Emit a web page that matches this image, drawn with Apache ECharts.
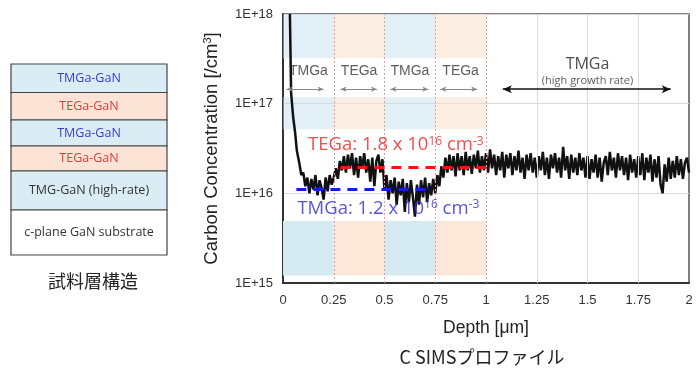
<!DOCTYPE html>
<html>
<head>
<meta charset="utf-8">
<script src="https://cdn.jsdelivr.net/npm/echarts@6/dist/echarts.min.js"></script>
<style>html,body{margin:0;padding:0;background:#fff;}#c{width:698px;height:369px;}</style>
</head>
<body>
<div id="c"></div>
<script>
// ---------------- DATA ----------------
// steep surface drop (depth in um, carbon in units of 1e16 cm^-3)
const depthHead = [0.034, 0.040, 0.050, 0.060, 0.068, 0.080, 0.090];
const carbonHead = [100, 13.1, 7.1, 4.7, 3.0, 2.2, 1.6];
// evenly sampled profile from 0.10 um to 2.00 um every 0.01 um (units of 1e16 cm^-3)
const gridStart = 0.10;
const gridStep = 0.01;
const carbonGrid = [
  1.7,1.2,1.5,1.0,1.45,1.1,1.6,0.95,1.4,1.15,0.85,1.5,1.05,1.6,1.25,
  1.5,1.9,1.45,2.3,1.8,2.6,1.7,2.7,1.9,2.8,1.6,2.5,1.5,2.6,1.9,2.8,1.7,2.4,1.35,2.5,1.2,2.3,2.7,1.7,2.4,
  1.1,1.6,0.85,1.4,1.0,1.5,0.75,1.35,0.95,1.45,0.62,1.3,0.8,1.4,0.9,0.55,1.25,0.75,1.4,0.9,1.5,0.8,1.3,0.95,1.45,
  1.0,1.6,1.2,2.0,1.5,2.5,1.7,2.7,1.8,2.6,1.55,2.8,1.8,2.6,1.6,2.9,1.8,2.6,1.65,2.7,1.9,3.0,1.7,2.6,1.8,
  2.8,1.7,3.1,1.9,2.7,1.6,2.6,1.8,2.9,1.5,2.7,1.9,2.8,1.6,2.6,1.8,3.0,1.7,2.5,1.45,2.7,1.8,2.8,1.7,2.5,
  1.5,2.6,1.8,2.9,1.6,2.5,1.45,2.7,1.9,2.8,1.7,2.5,1.5,3.3,1.8,2.6,1.45,2.7,1.7,2.5,1.6,2.8,1.8,2.5,1.5,
  2.6,1.45,2.4,1.7,2.7,1.5,2.5,1.35,2.2,2.6,1.6,2.9,1.8,2.5,1.5,2.8,1.8,2.6,1.6,2.5,1.4,2.7,1.7,2.4,1.5,
  2.6,1.6,2.8,1.4,2.5,1.7,2.7,1.35,2.4,1.5,2.6,1.25,1.0,2.1,1.35,2.5,1.45,2.3,1.5,2.6,1.6,2.4,1.45,2.2,2.5,1.7
];
const unit = 1e16;

// layer regions along depth
const layerNames = ['TMGa', 'TEGa', 'TMGa', 'TEGa'];
const layerEdges = [0, 0.25, 0.5, 0.75, 1.0];
const layerArrows = [[0.017, 0.20], [0.283, 0.463], [0.529, 0.716], [0.775, 0.957]];
const highRateArrow = [1.083, 1.91];
const gridDepths = [1.25, 1.5, 1.75];

// average levels
const tegaLevel = 1.95e16, tegaSpan = [0.283, 1.0];
const tmgaLevel = 1.12e16, tmgaSpan = [0.066, 0.734];

const xTicks = ['0', '0.25', '0.5', '0.75', '1', '1.25', '1.5', '1.75', '2'];

// ---------------- BUILD ----------------
const profile = [];
for (let i = 0; i < depthHead.length; i++) profile.push([depthHead[i], carbonHead[i] * unit]);
for (let i = 0; i < carbonGrid.length; i++) profile.push([+(gridStart + i * gridStep).toFixed(3), carbonGrid[i] * unit]);

// band vertical ranges (concentration values)
const bandRangesUpper = [[3.22e17, 1e18], [5.2e16, 1.18e17]];
const bandRangeLower = [1.21e15, 4.9e15];
const upperColors = ['rgba(200,224,240,0.5)', 'rgba(251,222,200,0.5)'];
const lowerColors = ['#d6eaf2', '#fce7d9'];

const areas = [];
for (let i = 0; i < 4; i++) {
  bandRangesUpper.forEach(r => {
    areas.push([{ xAxis: layerEdges[i], yAxis: r[0], itemStyle: { color: upperColors[i % 2] } }, { xAxis: layerEdges[i + 1], yAxis: r[1] }]);
  });
  areas.push([{ xAxis: layerEdges[i], yAxis: bandRangeLower[0], itemStyle: { color: lowerColors[i % 2] } }, { xAxis: layerEdges[i + 1], yAxis: bandRangeLower[1] }]);
}

const labelY = 2.31e17, arrowY = 1.45e17;
const layerLabels = layerNames.map((n, i) => ({
  value: [(layerEdges[i] + layerEdges[i + 1]) / 2, labelY],
  label: { formatter: n, fontSize: 14, color: '#333' }
}));

const ff = 'Liberation Sans, Arial, sans-serif';
const uiff = 'Open Sans, Noto Sans, sans-serif';

const option = {
  animation: false,
  backgroundColor: '#fff',
  grid: { left: 283, right: 9, top: 14, bottom: 86, show: true, borderColor: '#555', borderWidth: 1.5, backgroundColor: 'transparent' },
  xAxis: {
    type: 'value', min: 0, max: 2, interval: 0.25,
    name: 'Depth [μm]', nameLocation: 'middle', nameGap: 36,
    nameTextStyle: { fontFamily: ff, fontSize: 17.5, color: '#222' },
    axisLine: { show: true, lineStyle: { color: '#333', width: 2 } },
    axisTick: { show: false },
    splitLine: { show: false },
    axisLabel: { fontFamily: ff, fontSize: 13, color: '#333', margin: 11, formatter: v => xTicks[Math.round(v / 0.25)] }
  },
  yAxis: {
    type: 'log', logBase: 10, min: 1e15, max: 1e18,
    name: '{a|Carbon Concentration [/cm}{s|3}{a|]}', nameLocation: 'middle', nameGap: 62, nameRotate: 90,
    nameTextStyle: { rich: { a: { fontFamily: ff, fontSize: 18.5, color: '#222' }, s: { fontFamily: ff, fontSize: 11, color: '#222', verticalAlign: 'top' } } },
    axisLine: { show: true, lineStyle: { color: '#333', width: 2 } },
    axisTick: { show: false },
    splitLine: { show: true, lineStyle: { color: '#d9d9d9', width: 1 } },
    axisLabel: { fontFamily: ff, fontSize: 13, color: '#333', margin: 10, formatter: v => '1E+' + Math.round(Math.log10(v)) }
  },
  series: [
    {
      type: 'line', data: [], z: 1,
      markArea: { silent: true, data: areas },
      markLine: {
        silent: true, symbol: 'none', label: { show: false },
        data: layerEdges.slice(1).map(x => ({ xAxis: x, lineStyle: { color: '#e79a9a', width: 1, type: [2, 2] } }))
          .concat(gridDepths.map(x => ({ xAxis: x, lineStyle: { color: '#d9d9d9', width: 1, type: 'solid' } })))
      }
    },
    {
      type: 'line', data: profile, showSymbol: false, z: 3,
      lineStyle: { color: '#111', width: 2.5 }, itemStyle: { color: '#111' }
    },
    {
      type: 'line', data: [], z: 4,
      markLine: {
        silent: true, label: { show: false },
        data: [
          [{ coord: [tegaSpan[0], tegaLevel], symbol: 'none', lineStyle: { color: '#ff1010', width: 3, type: [10, 7] } }, { coord: [tegaSpan[1], tegaLevel], symbol: 'none' }],
          [{ coord: [tmgaSpan[0], tmgaLevel], symbol: 'none', lineStyle: { color: '#1a1ae6', width: 3, type: [10, 7] } }, { coord: [tmgaSpan[1], tmgaLevel], symbol: 'none' }]
        ].concat(layerArrows.map(a => [
          { coord: [a[0], arrowY], symbol: 'arrow', symbolSize: [4, 6], lineStyle: { color: '#888', width: 1, type: 'solid' } },
          { coord: [a[1], arrowY], symbol: 'arrow', symbolSize: [4, 6] }
        ])).concat([[
          { coord: [highRateArrow[0], arrowY], symbol: 'arrow', symbolSize: [6, 9], lineStyle: { color: '#111', width: 1.5, type: 'solid' } },
          { coord: [highRateArrow[1], arrowY], symbol: 'arrow', symbolSize: [6, 9] }
        ]])
      }
    },
    {
      type: 'scatter', z: 5, symbolSize: 1, itemStyle: { color: 'rgba(0,0,0,0)' },
      label: { show: true, position: 'inside', fontFamily: ff },
      data: layerLabels.concat([
        { value: [1.5, 2.76e17], label: { formatter: 'TMGa', fontFamily: uiff, fontSize: 16, color: '#222' } },
        { value: [1.5, 1.78e17], label: { formatter: '(high growth rate)', fontFamily: uiff, fontSize: 11, color: '#333' } },
        { value: [0.556, 3.44e16], label: { formatter: '{a|TEGa: 1.8 x 10}{s|16}{a| cm}{s|-3}', rich: { a: { fontFamily: uiff, fontSize: 18.5, color: '#f01e1e' }, s: { fontFamily: uiff, fontSize: 12, color: '#f01e1e', verticalAlign: 'top' } } } },
        { value: [0.519, 6.8e15], label: { formatter: '{a|TMGa: 1.2 x 10}{s|16}{a| cm}{s|-3}', rich: { a: { fontFamily: uiff, fontSize: 18.5, color: '#2a2ad2' }, s: { fontFamily: uiff, fontSize: 12, color: '#2a2ad2', verticalAlign: 'top' } } } }
      ])
    }
  ],
  graphic: []
};

// layer stack diagram (left)
const stack = [
  { y0: 64, y1: 92.5, fill: '#daecf4', text: 'TMGa-GaN', color: '#3a3ad0' },
  { y0: 92.5, y1: 120, fill: '#fbe4d5', text: 'TEGa-GaN', color: '#e53a3a' },
  { y0: 120, y1: 146, fill: '#daecf4', text: 'TMGa-GaN', color: '#3a3ad0' },
  { y0: 146, y1: 171, fill: '#fbe4d5', text: 'TEGa-GaN', color: '#e53a3a' },
  { y0: 171, y1: 210, fill: '#daecf4', text: 'TMG-GaN (high-rate)', color: '#333' },
  { y0: 210, y1: 255, fill: '#ffffff', text: 'c-plane GaN substrate', color: '#333' }
];
stack.forEach(s => {
  option.graphic.push({ type: 'rect', shape: { x: 11, y: s.y0, width: 156, height: s.y1 - s.y0 }, style: { fill: s.fill, stroke: '#444', lineWidth: 1.2 } });
  option.graphic.push({ type: 'text', x: 89, y: (s.y0 + s.y1) / 2, style: { text: s.text, fill: s.color, font: '12.5px ' + uiff, textAlign: 'center', textVerticalAlign: 'middle' } });
});
option.graphic.push({ type: 'text', x: 93, y: 281, style: { text: '試料層構造', fill: '#222', font: '18px "Noto Sans CJK JP"', textAlign: 'center', textVerticalAlign: 'middle' } });
option.graphic.push({ type: 'text', x: 482, y: 357, style: { text: 'C SIMSプロファイル', fill: '#222', font: '18px "Noto Sans CJK JP"', textAlign: 'center', textVerticalAlign: 'middle' } });

const chart = echarts.init(document.getElementById('c'), null, { renderer: 'canvas' });
chart.setOption(option);
</script>
</body>
</html>
